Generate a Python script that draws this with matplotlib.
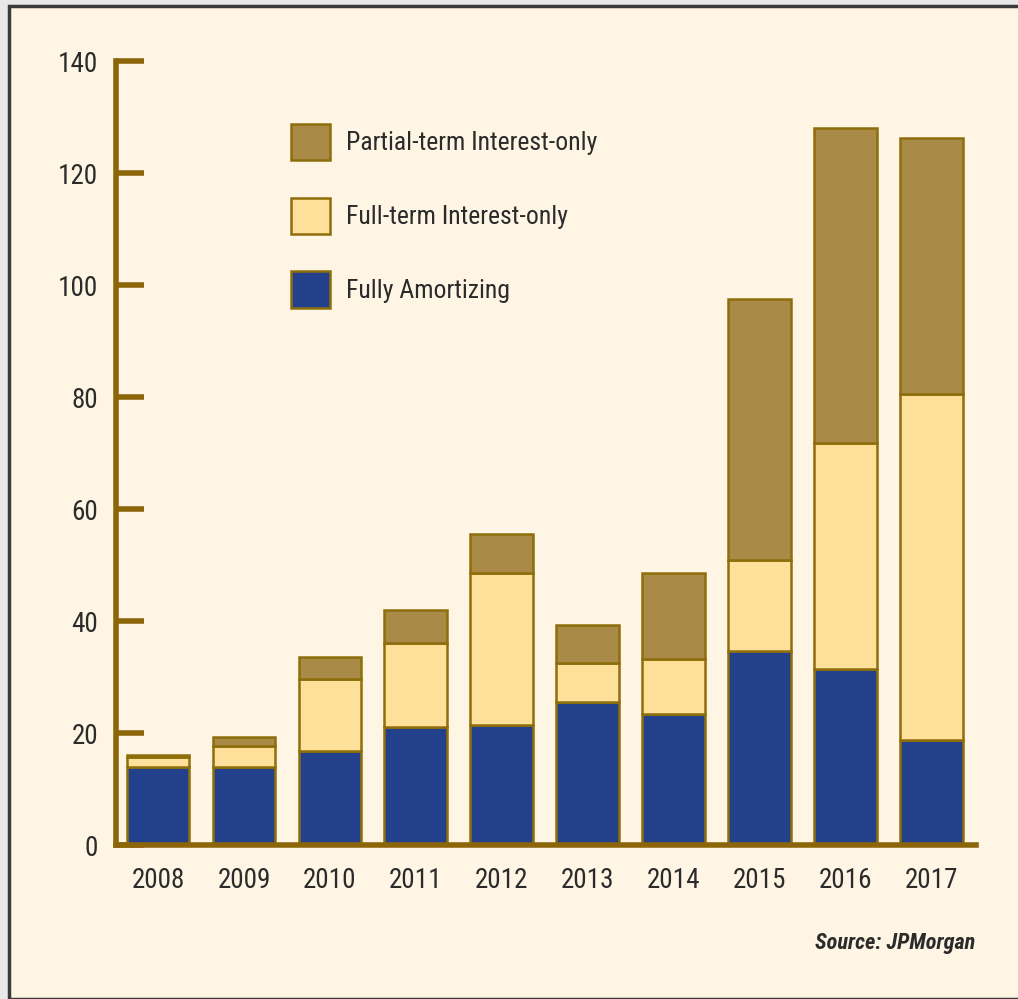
import matplotlib
matplotlib.use("Agg")
import matplotlib.pyplot as plt
from matplotlib.patches import Rectangle
import numpy as np

# ─── data (billions) ─────────────────────────────────────────────────────────
years = ["2008", "2009", "2010", "2011", "2012", "2013", "2014", "2015", "2016", "2017"]
fully_amortizing = [14.0, 14.0, 16.8, 21.0, 21.5, 25.5, 23.4, 34.6, 31.4, 18.8]
full_term_io     = [1.7, 3.7, 12.8, 15.0, 27.0, 7.0, 9.8, 16.3, 40.4, 61.7]
partial_term_io  = [0.4, 1.6, 4.0, 6.0, 7.0, 6.7, 15.4, 46.6, 56.3, 45.8]
yticks = [0, 20, 40, 60, 80, 100, 120, 140]

# ─── style ───────────────────────────────────────────────────────────────────
BG      = "#FFF5E4"
OUTER   = "#E8E8E8"
NAVY    = "#22408C"
YELLOW  = "#FFE09A"
BROWN   = "#AA8A47"
EDGE    = "#8E6E0A"
AXIS    = "#8B6508"
TEXT    = "#2B2B2B"

plt.rcParams["font.family"] = ["Liberation Sans Narrow", "DejaVu Sans Condensed",
                               "Roboto Condensed", "DejaVu Sans"]

fig = plt.figure(figsize=(10.18, 9.99), dpi=100)
fig.patch.set_facecolor(OUTER)

# cream panel with dark border (drawn underneath the axes)
fig.patches.append(Rectangle((9 / 1018, 0), 1.0, 1 - 6 / 999,
                             transform=fig.transFigure, facecolor=BG,
                             edgecolor="#3A3A3A", linewidth=2.5, zorder=-5))

ax = fig.add_axes([116 / 1018, 1 - 845 / 999, (976 - 116) / 1018, (845 - 61) / 999])
ax.set_facecolor("none")

x = np.arange(len(years))
w = 0.73
bot2 = np.array(fully_amortizing)
bot3 = bot2 + np.array(full_term_io)

b1 = ax.bar(x, fully_amortizing, w, color=NAVY, edgecolor=EDGE, linewidth=1.8,
            label="Fully Amortizing", zorder=3)
b2 = ax.bar(x, full_term_io, w, bottom=bot2, color=YELLOW, edgecolor=EDGE,
            linewidth=1.8, label="Full-term Interest-only", zorder=3)
b3 = ax.bar(x, partial_term_io, w, bottom=bot3, color=BROWN, edgecolor=EDGE,
            linewidth=1.8, label="Partial-term Interest-only", zorder=3)

ax.set_xlim(-0.49, 9.52)
ax.set_ylim(0, 140)
ax.set_xticks(x)
ax.set_xticklabels(years)
ax.set_yticks(yticks)

for s in ["top", "right"]:
    ax.spines[s].set_visible(False)
for s in ["left", "bottom"]:
    ax.spines[s].set_color(AXIS)
    ax.spines[s].set_linewidth(4)
    ax.spines[s].set_zorder(4)

ax.tick_params(axis="y", direction="in", length=20, width=4, color=AXIS,
               labelsize=19.5, labelcolor=TEXT, pad=13)
ax.tick_params(axis="x", length=0, labelsize=19.5, labelcolor=TEXT, pad=16)

leg = ax.legend(handles=[b3, b2, b1], loc="upper left",
                bbox_to_anchor=((291 - 116) / 860, (845 - 124) / 784),
                frameon=False, fontsize=18.5, handlelength=1.5, handleheight=1.8,
                handletextpad=0.65, labelspacing=1.45, borderpad=0,
                borderaxespad=0)
for t in leg.get_texts():
    t.set_color(TEXT)

fig.text(975 / 1018, 1 - 943 / 999, "Source: JPMorgan", ha="right", va="center",
         fontsize=16, fontweight="bold", fontstyle="italic", color=TEXT)

fig.savefig("out.png", dpi=100, facecolor=fig.get_facecolor())
